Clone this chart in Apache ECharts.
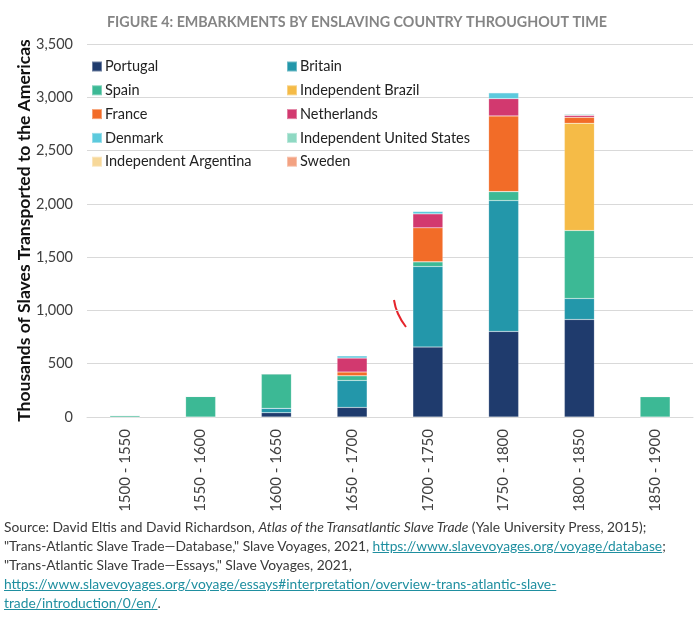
<!DOCTYPE html>
<html>
<head>
<meta charset="utf-8">
<script src="https://cdn.jsdelivr.net/npm/echarts@6/dist/echarts.min.js"></script>
<style>
  html, body { margin: 0; padding: 0; background: #fff; }
  #wrap { position: relative; width: 700px; height: 618px; }
  #chart { position: absolute; left: 0; top: 0; width: 700px; height: 618px; }
  #source { position: absolute; left: 4px; top: 517px; width: 690px; font-family: Lato, "Open Sans", sans-serif;
            font-size: 13.8px; line-height: 19px; color: #3a3a3a; }
  #source a { color: #1f8fa0; text-decoration: underline; }
</style>
</head>
<body>
<div id="wrap">
  <div id="chart"></div>
  <div id="source">Source: David Eltis and David Richardson, <i>Atlas of the Transatlantic Slave Trade</i> (Yale University Press, 2015);<br>"Trans-Atlantic Slave Trade—Database," Slave Voyages, 2021, <a>https://www.slavevoyages.org/voyage/database</a>;<br>"Trans-Atlantic Slave Trade—Essays," Slave Voyages, 2021,<br><a>https://www.slavevoyages.org/voyage/essays#interpretation/overview-trans-atlantic-slave-<br>trade/introduction/0/en/</a>.</div>
</div>
<script>
const categories = ['1500 - 1550', '1550 - 1600', '1600 - 1650', '1650 - 1700', '1700 - 1750', '1750 - 1800', '1800 - 1850', '1850 - 1900'];

const portugal      = [0,   0,   40,  90,  656, 803,  915, 0];
const britain       = [0,   0,   41,  253, 756, 1228, 197, 0];
const spain         = [15,  193, 325, 44,  44,  84,   638, 190];
const indBrazil     = [0,   0,   0,   0,   0,   0,    1006, 5];
const france        = [0,   0,   0,   35,  319, 710,  56,  0];
const netherlands   = [0,   0,   0,   131, 131, 162,  18,  0];
const denmark       = [0,   0,   0,   22,  25,  56,   5,   0];
const indUS         = [0,   0,   0,   0,   0,   0,    10,  0];
const indArgentina  = [0,   0,   0,   0,   0,   0,    0,   0];
const sweden        = [0,   0,   0,   0,   0,   0,    0,   0];

const yTicks = [0, 500, 1000, 1500, 2000, 2500, 3000, 3500];

const seriesDefs = [
  ['Portugal', portugal, '#1f3b6d'],
  ['Britain', britain, '#2397aa'],
  ['Spain', spain, '#3cb995'],
  ['Independent Brazil', indBrazil, '#f5bb47'],
  ['France', france, '#f26c28'],
  ['Netherlands', netherlands, '#d2396f'],
  ['Denmark', denmark, '#5ccadd'],
  ['Independent United States', indUS, '#8fd9c3'],
  ['Independent Argentina', indArgentina, '#f7d899'],
  ['Sweden', sweden, '#f3a282']
];

const font = 'Lato, "Open Sans", sans-serif';
const chart = echarts.init(document.getElementById('chart'), null, { renderer: 'canvas' });

const legendCommon = {
  orient: 'vertical',
  top: 54,
  icon: 'rect',
  itemWidth: 10,
  itemHeight: 10,
  itemGap: 8.8,
  selectedMode: false,
  textStyle: { fontFamily: font, fontSize: 14.5, color: '#222', lineHeight: 14, padding: [0, 0, 0, -2] }
};

const option = {
  animation: false,
  backgroundColor: '#fff',
  title: {
    text: 'FIGURE 4: EMBARKMENTS BY ENSLAVING COUNTRY THROUGHOUT TIME',
    left: 352, top: 10, textAlign: 'center',
    textStyle: { fontFamily: font, fontSize: 14.3, fontWeight: 'bold', color: '#858585' }
  },
  legend: [
    Object.assign({}, legendCommon, { left: 86, data: ['Portugal', 'Spain', 'France', 'Denmark', 'Independent Argentina'] }),
    Object.assign({}, legendCommon, { left: 281, data: ['Britain', 'Independent Brazil', 'Netherlands', 'Independent United States', 'Sweden'] })
  ],
  grid: { left: 87, right: 7, top: 44, bottom: 201, containLabel: false },
  xAxis: {
    type: 'category',
    data: categories,
    axisLine: { lineStyle: { color: '#d9d9d9', width: 1 } },
    axisTick: { show: false },
    axisLabel: { rotate: 90, margin: 12, fontFamily: font, fontSize: 15, color: '#404040' }
  },
  yAxis: {
    type: 'value',
    min: yTicks[0], max: yTicks[yTicks.length - 1], interval: 500,
    name: 'Thousands of Slaves Transported to the Americas',
    nameLocation: 'middle', nameRotate: 90, nameGap: 54, nameMoveOverlap: false,
    nameTextStyle: { fontFamily: font, fontSize: 17.5, fontWeight: 'bold', color: '#111' },
    axisLine: { show: false },
    axisTick: { show: false },
    splitLine: { lineStyle: { color: '#d9d9d9', width: 1 } },
    axisLabel: {
      margin: 14, fontFamily: font, fontSize: 14.5, color: '#404040',
      formatter: v => v.toLocaleString('en-US')
    }
  },
  series: seriesDefs.map(([name, data, color]) => ({
    name, type: 'bar', stack: 'total', data,
    barWidth: 30,
    itemStyle: { color, borderColor: 'rgba(255,255,255,0.35)', borderWidth: 0.5 },
    emphasis: { disabled: true }
  })),
  graphic: [{
    type: 'bezierCurve',
    shape: { x1: 394, y1: 300, cpx1: 396, cpy1: 314, x2: 406, y2: 327 },
    style: { stroke: '#e5252c', lineWidth: 2, fill: null }
  }]
};
chart.setOption(option);
</script>
</body>
</html>
